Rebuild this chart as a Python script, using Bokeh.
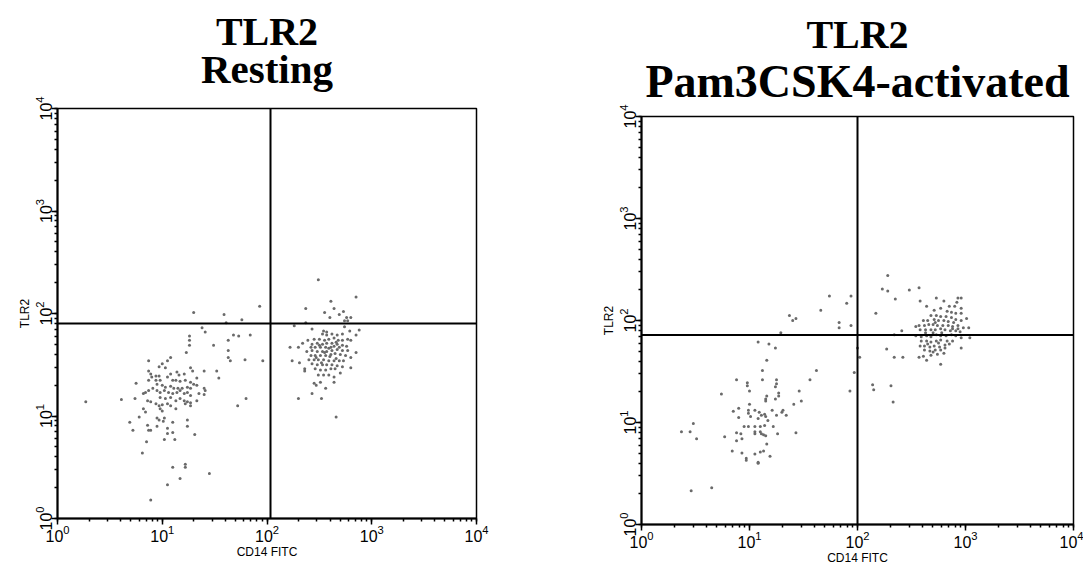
import numpy as np
from bokeh.plotting import figure
from bokeh.layouts import row, column
from bokeh.models import Span, Title, Spacer
from bokeh.embed import file_html
from bokeh.resources import INLINE

# ---------------- data (log10 decades of fluorescence) ----------------
# Resting monocytes: CD14 FITC (x) vs TLR2 (y)
rest_cd14_log = [
    1.26, 1.26, 1.26, 1.41, 1.23, 1.49, 1.63, 1.68, 1.73, 1.84,
    1.63, 1.63, 1.65, 1.79, 1.08, 1.05, 0.87, 1.00, 0.97, 1.03,
    0.87, 0.89, 0.94, 0.90, 0.97, 0.87, 0.94, 0.98, 1.05, 1.08,
    1.14, 1.16, 1.21, 1.27, 1.29, 1.40, 1.52, 1.54, 1.33, 1.10,
    1.13, 1.17, 1.22, 1.27, 1.30, 0.95, 1.00, 1.03, 1.08, 1.11,
    1.15, 1.19, 1.24, 1.27, 1.33, 1.40, 1.41, 1.40, 1.35, 0.75,
    0.82, 0.84, 0.87, 0.91, 0.95, 0.98, 1.02, 1.06, 1.10, 1.14,
    1.17, 1.21, 1.24, 1.27, 0.98, 1.03, 1.08, 1.13, 1.17, 1.21,
    1.24, 1.27, 1.33, 0.86, 0.89, 0.94, 0.97, 1.00, 1.05, 1.08,
    1.13, 1.22, 1.27, 0.61, 0.74, 0.82, 0.84, 0.98, 1.00, 0.78,
    0.95, 0.97, 1.02, 1.01, 1.10, 1.24, 0.69, 0.72, 0.86, 0.87,
    0.89, 0.95, 1.05, 1.10, 1.05, 1.24, 1.31, 1.02, 1.12, 0.85,
    0.81, 1.10, 1.22, 1.22, 1.17, 1.05, 1.45, 0.89, 1.72, 1.80,
    0.27, 1.38, 1.96, 2.66, 1.30, 1.59, 1.61, 1.76, 1.93,
    2.43, 2.54, 2.57, 2.74, 2.79, 2.88, 2.85, 2.80, 2.77, 2.72,
    2.67, 2.62, 2.57, 2.53, 2.50, 2.55, 2.59, 2.64, 2.68, 2.72,
    2.45, 2.39, 2.43, 2.48, 2.53, 2.57, 2.62, 2.67, 2.72, 2.76,
    2.64, 2.61, 2.56, 2.51, 2.46, 2.42, 2.34, 2.22, 2.30, 2.38,
    2.43, 2.48, 2.53, 2.57, 2.62, 2.67, 2.72, 2.77, 2.85, 2.80,
    2.75, 2.70, 2.65, 2.61, 2.56, 2.51, 2.46, 2.42, 2.45, 2.49,
    2.54, 2.59, 2.64, 2.69, 2.73, 2.24, 2.31, 2.36, 2.36, 2.43,
    2.48, 2.53, 2.57, 2.62, 2.67, 2.72, 2.80, 2.46, 2.51, 2.56,
    2.61, 2.65, 2.49, 2.54, 2.59, 2.64, 2.70, 2.45, 2.47, 2.51,
    2.56, 2.64, 2.43, 2.52, 2.30,
    2.50, 2.59, 2.66, 2.55, 2.69, 2.47, 2.60, 2.52, 2.66, 2.40,
    2.49, 2.85, 2.61, 2.37, 2.64, 2.55, 2.73, 2.69, 2.76, 2.80,
    2.60, 2.74, 2.77, 2.37, 2.26,
]
rest_tlr2_log = [
    1.78, 1.74, 1.69, 1.82, 1.62, 1.69, 1.74, 1.79, 1.78, 1.79,
    1.64, 1.57, 1.54, 1.55, 1.57, 1.54, 1.54, 1.51, 1.48, 1.47,
    1.44, 1.41, 1.39, 1.38, 1.39, 1.35, 1.35, 1.35, 1.38, 1.41,
    1.43, 1.40, 1.41, 1.47, 1.44, 1.44, 1.44, 1.37, 1.37, 1.35,
    1.35, 1.34, 1.35, 1.33, 1.31, 1.31, 1.30, 1.28, 1.29, 1.27,
    1.27, 1.27, 1.28, 1.27, 1.30, 1.27, 1.25, 1.21, 1.22, 1.32,
    1.22, 1.23, 1.25, 1.27, 1.25, 1.23, 1.25, 1.23, 1.22, 1.23,
    1.25, 1.22, 1.23, 1.20, 1.18, 1.17, 1.18, 1.15, 1.17, 1.15,
    1.14, 1.13, 1.15, 1.15, 1.14, 1.12, 1.10, 1.11, 1.12, 1.10,
    1.07, 1.12, 1.10, 1.16, 1.17, 1.07, 1.04, 1.07, 1.05, 0.99,
    0.98, 0.96, 0.98, 0.95, 0.94, 0.96, 0.94, 0.86, 0.91, 0.86,
    0.86, 0.90, 0.88, 0.84, 0.83, 0.90, 0.82, 0.77, 0.77, 0.75,
    0.64, 0.50, 0.53, 0.50, 0.39, 0.33, 0.44, 0.18, 1.10, 1.17,
    1.14, 1.86, 1.54, 0.99, 2.01, 1.99, 1.91, 1.94, 2.07,
    1.85, 1.83, 1.82, 1.87, 1.83, 1.84, 1.79, 1.74, 1.75, 1.80,
    1.79, 1.80, 1.79, 1.80, 1.75, 1.74, 1.75, 1.76, 1.74, 1.74,
    1.75, 1.74, 1.70, 1.71, 1.70, 1.71, 1.71, 1.70, 1.69, 1.68,
    1.68, 1.67, 1.67, 1.67, 1.67, 1.67, 1.71, 1.67, 1.67, 1.63,
    1.64, 1.63, 1.63, 1.63, 1.64, 1.65, 1.64, 1.64, 1.62, 1.57,
    1.59, 1.60, 1.61, 1.60, 1.59, 1.59, 1.59, 1.59, 1.55, 1.55,
    1.55, 1.54, 1.54, 1.54, 1.54, 1.54, 1.52, 1.46, 1.44, 1.51,
    1.50, 1.50, 1.50, 1.50, 1.49, 1.48, 1.47, 1.46, 1.45, 1.45,
    1.46, 1.46, 1.40, 1.40, 1.40, 1.38, 1.42, 1.32, 1.30, 1.33,
    1.27, 1.33, 1.22, 1.17, 1.17,
    1.69, 1.66, 1.72, 1.62, 1.67, 1.57, 1.58, 1.52, 1.56, 1.55,
    2.33, 2.16, 2.12, 2.05, 2.05, 2.01, 2.02, 1.99, 1.96, 1.96,
    1.96, 1.93, 1.93, 1.91, 1.88,
]

# Pam3CSK4-activated monocytes
act_cd14_log = [
    1.37, 1.40, 1.43, 1.66, 1.90, 1.83, 1.83, 1.94, 1.29, 1.74, 1.94,
    1.08, 1.18, 1.24, 1.16, 1.12, 1.62, 1.56, 1.12, 1.25, 0.88,
    0.98, 0.98, 1.25, 1.24, 1.27, 1.27, 1.00, 0.74, 1.16, 1.15,
    1.15, 1.24, 1.46, 1.48, 1.41, 0.90, 1.00, 0.85, 0.99, 0.99,
    1.05, 1.09, 1.11, 1.14, 1.15, 1.17, 1.08, 1.21, 1.25, 1.31,
    1.34, 1.30, 0.90, 1.01, 0.48, 0.37, 0.45, 0.51, 0.95, 0.99,
    1.05, 1.10, 1.14, 1.22, 1.05, 1.05, 1.10, 1.11, 1.13, 1.15,
    0.88, 0.92, 0.77, 0.88, 0.93, 1.26, 1.43, 1.16, 0.84, 0.93,
    0.97, 0.97, 1.05, 1.10, 1.13, 1.19, 1.08, 1.08, 0.46, 0.65,
    1.93, 1.97,
    2.00, 2.02,
    2.28, 2.23, 2.28, 2.48, 2.57, 2.35, 2.58, 2.73, 2.80, 2.17,
    2.41, 2.34, 2.54, 2.93, 2.96, 2.92, 2.90, 2.96, 2.85, 2.64,
    2.71, 2.77, 2.83, 2.87, 2.91, 2.96, 2.68, 2.73, 2.77, 2.82,
    2.87, 2.91, 2.96, 3.01, 2.61, 2.65, 2.71, 2.75, 2.80, 2.84,
    2.89, 2.93, 2.98, 3.03, 2.57, 2.62, 2.66, 2.70, 2.74, 2.79,
    2.84, 2.88, 2.93, 2.58, 2.63, 2.68, 2.72, 2.77, 2.81, 2.86,
    2.91, 2.95,
    2.54, 2.59, 2.64, 2.68, 2.73, 2.77, 2.82, 2.87, 2.91, 2.96,
    3.04, 2.59, 2.64, 2.68, 2.73, 2.77, 2.83, 2.88, 2.58, 2.62,
    2.67, 2.71, 2.76, 2.81, 2.62, 2.67, 2.72, 2.77, 2.81, 2.68,
    2.74, 2.96, 2.61, 2.57, 2.64, 2.77, 2.42, 2.34, 2.27, 2.14,
    2.15, 2.31, 2.33,
    2.70, 2.78, 2.65, 2.75, 2.85, 2.70, 2.80, 2.63, 2.88, 2.72,
]
act_tlr2_log = [
    2.05, 2.00, 2.02, 2.10, 2.17, 1.98, 1.93, 1.95, 1.88, 2.24, 2.24,
    1.79, 1.77, 1.73, 1.61, 1.51, 1.51, 1.42, 1.42, 1.42, 1.42,
    1.39, 1.36, 1.38, 1.35, 1.29, 1.26, 1.31, 1.28, 1.26, 1.23,
    1.21, 1.23, 1.31, 1.21, 1.18, 1.14, 1.18, 1.11, 1.12, 1.09,
    1.12, 1.10, 1.07, 1.08, 1.06, 1.02, 1.04, 1.12, 1.07, 1.12,
    1.07, 1.10, 1.05, 1.06, 0.99, 0.91, 0.91, 0.84, 0.96, 0.96,
    0.96, 0.96, 0.97, 0.96, 0.91, 0.89, 0.91, 0.89, 0.88, 0.87,
    0.90, 0.89, 0.86, 0.82, 0.84, 0.89, 0.90, 0.79, 0.72, 0.70,
    0.65, 0.63, 0.69, 0.71, 0.72, 0.67, 0.61, 0.60, 0.33, 0.36,
    1.31, 1.49,
    1.73, 1.64,
    2.44, 2.31, 2.29, 2.30, 2.32, 2.21, 2.19, 2.22, 2.19, 2.07,
    1.90, 1.86, 1.94, 2.22, 2.22, 2.18, 2.14, 2.12, 2.14, 2.14,
    2.10, 2.12, 2.09, 2.08, 2.07, 2.07, 2.05, 2.05, 2.04, 2.04,
    2.03, 2.01, 2.00, 2.02, 2.00, 2.00, 2.01, 2.00, 2.00, 1.99,
    1.98, 1.95, 1.93, 1.93, 1.95, 1.95, 1.96, 1.96, 1.95, 1.95,
    1.95, 1.94, 1.92, 1.91, 1.91, 1.91, 1.91, 1.92, 1.91, 1.90,
    1.90, 1.89,
    1.85, 1.84, 1.85, 1.84, 1.86, 1.85, 1.85, 1.86, 1.85, 1.83,
    1.83, 1.80, 1.80, 1.79, 1.80, 1.81, 1.80, 1.80, 1.75, 1.75,
    1.74, 1.75, 1.74, 1.76, 1.71, 1.70, 1.71, 1.71, 1.73, 1.66,
    1.67, 1.73, 1.65, 1.64, 1.61, 1.57, 1.64, 1.64, 1.72, 1.37,
    1.32, 1.36, 1.20,
    1.88, 1.88, 1.77, 1.78, 1.77, 1.69, 1.68, 1.88, 1.92, 1.98,
]

# quadrant gates (fluorescence units)
rest_gate = (108, 80)
act_gate = (100, 72)

title_top = "TLR2"
subtitles = ["Resting", "Pam3CSK4-activated"]
x_label = "CD14 FITC"
y_label = "TLR2"

DOT = "#6a6a6a"
SANS = "Liberation Sans"
SERIF = "Liberation Serif"


def panel(subtitle, x_log, y_log, gate, fw, fh, bl, bt, br, bb,
          sub_size, sub_standoff, top_standoff):
    p = figure(x_axis_type="log", y_axis_type="log",
               x_range=(1, 1e4), y_range=(1, 1e4),
               frame_width=fw, frame_height=fh,
               min_border_left=bl, min_border_top=bt,
               min_border_right=br, min_border_bottom=bb,
               x_axis_label=x_label, y_axis_label=y_label,
               output_backend="svg", toolbar_location=None)
    # top line (outermost)
    p.title.text = title_top
    p.title.align = "center"
    p.title.text_font = SERIF
    p.title.text_font_style = "bold"
    p.title.text_font_size = "40px"
    p.title.text_color = "black"
    p.title.standoff = top_standoff
    # second line (closest to the frame)
    p.add_layout(Title(text=subtitle, align="center", text_font=SERIF,
                       text_font_style="bold", text_font_size=sub_size,
                       text_color="black", standoff=sub_standoff),
                 "above")
    p.grid.visible = False
    p.outline_line_color = "black"
    p.outline_line_width = 1.5
    p.outline_line_alpha = 1
    p.background_fill_color = "white"
    p.border_fill_color = "white"
    for ax in (p.xaxis[0], p.yaxis[0]):
        ax.axis_line_width = 2
        ax.axis_line_color = "black"
        ax.major_tick_out = 6
        ax.major_tick_in = 0
        ax.minor_tick_out = 3
        ax.minor_tick_in = 0
        ax.major_tick_line_width = 1.5
        ax.minor_tick_line_width = 1.5
        ax.major_tick_line_color = "black"
        ax.minor_tick_line_color = "black"
        ax.major_label_text_font = SANS
        ax.major_label_text_font_size = "16px"
        ax.major_label_text_color = "black"
        ax.major_label_standoff = 0
        ax.axis_label_text_font = SANS
        ax.axis_label_text_font_size = "12px"
        ax.axis_label_text_font_style = "normal"
        ax.axis_label_text_color = "black"
        ax.axis_label_standoff = 0
    p.yaxis[0].major_label_orientation = "vertical"

    xs = np.power(10.0, np.array(x_log))
    ys = np.power(10.0, np.array(y_log))
    p.scatter(xs, ys, marker="circle", size=3, fill_color=DOT, line_color=None)

    p.add_layout(Span(location=gate[0], dimension="height", line_color="black", line_width=2))
    p.add_layout(Span(location=gate[1], dimension="width", line_color="black", line_width=2))
    return p


p1 = panel(subtitles[0], rest_cd14_log, rest_tlr2_log, rest_gate,
           419, 410, 57, 108, 115, 44, "41px", 34, -54)
p2 = panel(subtitles[1], act_cd14_log, act_tlr2_log, act_gate,
           432, 408, 50, 108, 10, 42, "46px", 19, -24)

layout = row(p1, column(Spacer(height=8, width=10), p2))
open("out.html", "w").write(file_html(layout, INLINE))
